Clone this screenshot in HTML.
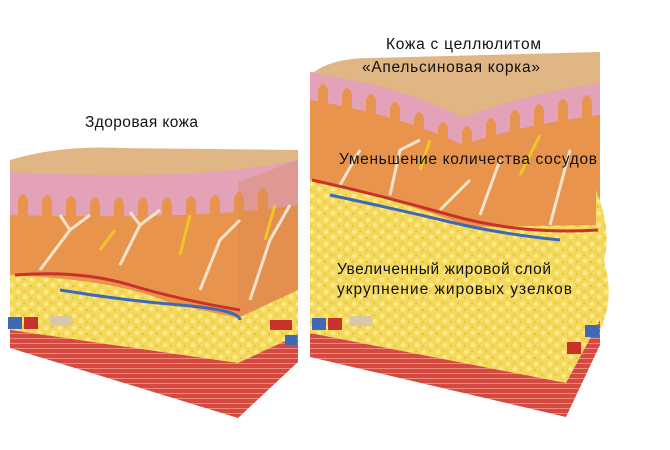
<!DOCTYPE html>
<html><head><meta charset="utf-8"><style>
body{margin:0;width:670px;height:450px;background:#fff;overflow:hidden}
svg{display:block}
text{font-family:"Liberation Sans","DejaVu Sans",sans-serif;font-size:15.5px;fill:#111}
</style></head><body>
<svg width="670" height="450" viewBox="0 0 670 450">
<defs>
<pattern id="fat" width="14" height="12" patternUnits="userSpaceOnUse">
<rect width="14" height="12" fill="#f4d85a"/>
<circle cx="4" cy="4" r="2.4" fill="#fbe98a"/><circle cx="11" cy="9" r="2.4" fill="#fbe98a"/>
<circle cx="10" cy="3" r="1" fill="#e5bd3a"/><circle cx="3" cy="10" r="1" fill="#e5bd3a"/>
</pattern>
<pattern id="mus" width="6" height="5" patternUnits="userSpaceOnUse">
<rect width="6" height="5" fill="#d44a40"/><rect y="3" width="6" height="1" fill="#ee8a7c"/>
</pattern>
<path id="fg" d="M0,30 L0,8 Q5,-4 10,8 L10,30Z" fill="#e9944c"/>
</defs>
<!-- LEFT BLOCK -->
<path d="M10,170 Q200,180 298,158 L298,340 L10,340Z" fill="#e9944c"/>
<path d="M10,170 Q200,182 298,158 L298,205 Q200,220 10,215Z" fill="#e3a2b8"/>
<g>
<use href="#fg" x="18" y="192"/><use href="#fg" x="42" y="193"/><use href="#fg" x="66" y="194"/><use href="#fg" x="90" y="195"/><use href="#fg" x="114" y="195"/><use href="#fg" x="138" y="195"/><use href="#fg" x="162" y="195"/><use href="#fg" x="186" y="194"/><use href="#fg" x="210" y="193"/><use href="#fg" x="234" y="190"/><use href="#fg" x="258" y="186"/>
</g>
<path d="M10,160 Q60,145 120,148 L298,150 L298,160 Q200,182 10,172Z" fill="#e0b684"/>
<path d="M238,182 L298,160 L298,360 L238,418Z" fill="#d9884f" opacity=".35"/>
<path d="M10,275 Q120,280 170,303 L238,318 L298,290 L298,335 L238,363 L10,330Z" fill="url(#fat)"/>
<path d="M10,330 L238,363 L298,335 L298,362 L238,418 L10,348Z" fill="url(#mus)"/>
<g stroke="#f4e3cc" stroke-width="3" fill="none">
<path d="M40,270 L70,230 L90,215 M70,230 L60,215 M120,265 L140,225 L160,210 M140,225 L130,212 M200,290 L220,240 L240,220 M250,300 L270,240 L290,205"/>
</g>
<g stroke-width="3" fill="none">
<path d="M15,275 Q80,270 130,285 T240,310" stroke="#c8322a"/>
<path d="M60,290 Q120,300 180,305 T240,320" stroke="#3d69b6"/>
<path d="M100,250 L115,230 M180,255 L190,215 M265,240 L275,205" stroke="#f0c428"/>
</g>
<rect x="8" y="317" width="14" height="12" fill="#3d69b6"/><rect x="24" y="317" width="14" height="12" fill="#c8322a"/><rect x="50" y="316" width="22" height="10" fill="#d8c7a8"/>
<rect x="270" y="320" width="22" height="10" fill="#c8322a"/><rect x="285" y="335" width="12" height="10" fill="#3d69b6"/>
<!-- RIGHT BLOCK -->
<path d="M310,72 Q400,84 463,117 Q520,95 600,82 L600,235 L310,235Z" fill="#e9944c"/>
<path d="M310,72 Q400,84 463,117 Q520,95 600,82 L600,115 Q520,125 463,145 Q400,115 310,100Z" fill="#e3a2b8"/>
<g>
<use href="#fg" x="318" y="82"/><use href="#fg" x="342" y="86"/><use href="#fg" x="366" y="92"/><use href="#fg" x="390" y="100"/><use href="#fg" x="414" y="110"/><use href="#fg" x="438" y="120"/><use href="#fg" x="462" y="124"/><use href="#fg" x="486" y="116"/><use href="#fg" x="510" y="108"/><use href="#fg" x="534" y="102"/><use href="#fg" x="558" y="97"/><use href="#fg" x="582" y="93"/>
</g>
<path d="M310,75 Q330,58 370,58 L600,52 L600,83 Q520,95 463,118 Q400,85 310,73Z" fill="#e0b684"/>
<path d="M310,180 Q400,200 470,227 L600,225 L600,320 L566,383 L310,333Z" fill="url(#fat)"/>
<path d="M596,190 Q612,230 604,260 Q615,300 600,330 L596,330Z" fill="url(#fat)"/>
<path d="M310,333 L566,383 L600,320 L600,345 L566,417 L310,357Z" fill="url(#mus)"/>
<g stroke="#f4e3cc" stroke-width="3" fill="none">
<path d="M340,185 L360,150 M390,195 L400,150 L420,140 M480,215 L500,160 M550,225 L570,150 M440,210 L470,180"/>
</g>
<g stroke-width="3" fill="none">
<path d="M312,180 Q380,195 450,215 T598,230" stroke="#c8322a"/>
<path d="M330,195 Q400,210 450,222 T560,240" stroke="#3d69b6"/>
<path d="M420,170 L430,140 M520,175 L540,135" stroke="#f0c428"/>
</g>
<rect x="312" y="318" width="14" height="12" fill="#3d69b6"/><rect x="328" y="318" width="14" height="12" fill="#c8322a"/><rect x="350" y="316" width="22" height="10" fill="#d8c7a8"/>
<rect x="585" y="325" width="14" height="12" fill="#3d69b6"/><rect x="567" y="342" width="14" height="12" fill="#c8322a"/>
<text x="85" y="127" textLength="113">Здоровая кожа</text>
<text x="386" y="49" textLength="155">Кожа с целлюлитом</text>
<text x="362" y="72" textLength="178">«Апельсиновая корка»</text>
<text x="339" y="164" textLength="258">Уменьшение количества сосудов</text>
<text x="337" y="274" textLength="214">Увеличенный жировой слой</text>
<text x="337" y="294" textLength="235">укрупнение жировых узелков</text>
</svg>
</body></html>
